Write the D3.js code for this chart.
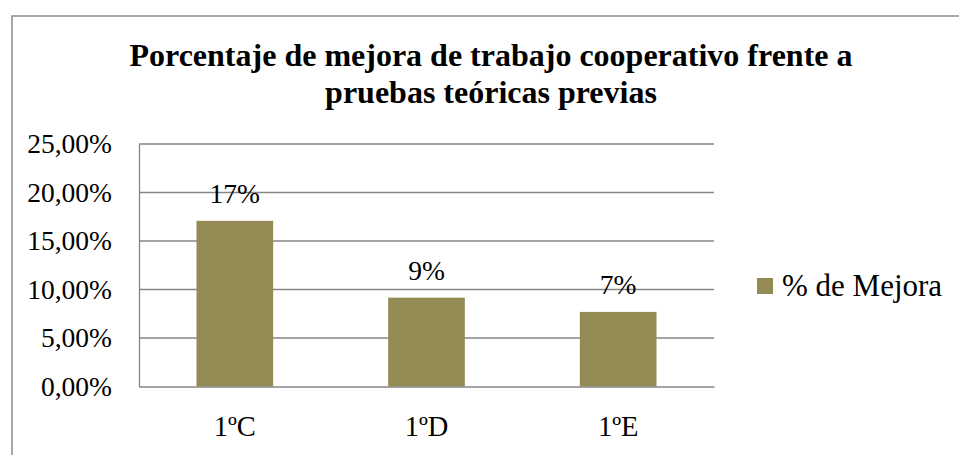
<!DOCTYPE html>
<html>
<head>
<meta charset="utf-8">
<script src="https://cdn.jsdelivr.net/npm/d3@7"></script>
<style>
  html, body { margin: 0; padding: 0; background: #fff; }
  svg { display: block; }
  text { font-family: "Liberation Serif", "Times New Roman", serif; fill: #000; }
</style>
</head>
<body>
<svg id="chart" width="959" height="455"></svg>
<script>
// ---- Data ----
const categories = ["1ºC", "1ºD", "1ºE"];
const seriesName = "% de Mejora";
const values = [0.1708, 0.0916, 0.0769];
const valueLabels = ["17%", "9%", "7%"];
const yTicks = [0, 0.05, 0.10, 0.15, 0.20, 0.25];
const yTickLabels = ["0,00%", "5,00%", "10,00%", "15,00%", "20,00%", "25,00%"];
const titleLines = ["Porcentaje de mejora de trabajo cooperativo frente a", "pruebas teóricas previas"];

// ---- Layout ----
const svg = d3.select("#chart");
const W = 959, H = 455;
const plot = { left: 139, right: 714, top: 144, bottom: 386.5 };
const barColor = "#948A54";
const gridColor = "#868686";

// outer chart border (extends past the right/bottom edges)
svg.append("rect")
  .attr("x", 12).attr("y", 16)
  .attr("width", W + 20).attr("height", H + 20)
  .attr("fill", "#fff")
  .attr("stroke", "#8c8c8c")
  .attr("stroke-width", 1.5);

// title
svg.append("text")
  .attr("x", 491).attr("text-anchor", "middle")
  .attr("font-weight", "bold").attr("font-size", 32)
  .selectAll("tspan").data(titleLines).join("tspan")
  .attr("x", 491)
  .attr("y", (d, i) => 66 + i * 37)
  .text(d => d);

// scales
const x = d3.scaleBand().domain(categories)
  .range([plot.left, plot.right]).paddingInner(0.6).paddingOuter(0.3);
const y = d3.scaleLinear().domain([0, 0.25]).range([plot.bottom, plot.top]);

// gridlines
svg.append("g").selectAll("line").data(yTicks.slice(1)).join("line")
  .attr("x1", plot.left).attr("x2", plot.right)
  .attr("y1", d => y(d)).attr("y2", d => y(d))
  .attr("stroke", gridColor).attr("stroke-width", 1.3);

// y axis
const yAxis = d3.axisLeft(y).tickValues(yTicks)
  .tickFormat((d, i) => yTickLabels[i]).tickSize(0).tickPadding(27);
const gy = svg.append("g").attr("transform", `translate(${plot.left},0)`).call(yAxis);
gy.select(".domain").attr("stroke", gridColor).attr("stroke-width", 1.3);
gy.selectAll("text").attr("font-size", 27.5).attr("font-family", "Liberation Serif");

// bars
svg.append("g").selectAll("rect").data(values).join("rect")
  .attr("x", (d, i) => x(categories[i]))
  .attr("width", x.bandwidth())
  .attr("y", d => y(d))
  .attr("height", d => y(0) - y(d))
  .attr("fill", barColor);

// x axis
const xAxis = d3.axisBottom(x).tickSize(0).tickPadding(29);
const gx = svg.append("g").attr("transform", `translate(0,${plot.bottom})`).call(xAxis);
gx.select(".domain").attr("stroke", gridColor).attr("stroke-width", 1.3);
gx.selectAll("text").attr("font-size", 28.5).attr("font-family", "Liberation Serif");

// data labels
svg.append("g").selectAll("text").data(values).join("text")
  .attr("x", (d, i) => x(categories[i]) + x.bandwidth() / 2)
  .attr("y", d => y(d) - 18)
  .attr("text-anchor", "middle")
  .attr("font-size", 27.5)
  .text((d, i) => valueLabels[i]);

// legend
const lg = svg.append("g").attr("transform", "translate(757,278)");
lg.append("rect").attr("width", 16).attr("height", 16).attr("fill", barColor);
lg.append("text").attr("x", 25).attr("y", 18).attr("font-size", 31).text(seriesName);
</script>
</body>
</html>
